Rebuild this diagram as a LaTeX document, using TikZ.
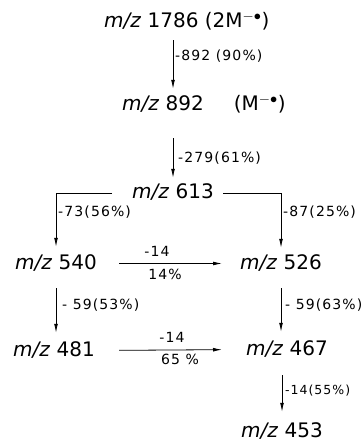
\documentclass[tikz,border=0pt]{standalone}
\usepackage{fontspec}
\setmainfont{DejaVu Sans}
\newfontfamily\lossfont[LetterSpace=8]{DejaVu Sans}
\usepackage{tikz}
\usetikzlibrary{arrows.meta}

\begin{document}
\begin{tikzpicture}[
    x=1pt, y=-1pt,
    ion/.style={
      anchor=base west, inner sep=0pt,
      text height=15pt, text depth=4pt,
      font=\fontsize{20}{24}\selectfont
    },
    loss/.style={anchor=west, inner sep=0pt, font=\lossfont\fontsize{14}{16}\selectfont},
    rate/.style={inner sep=0pt, font=\lossfont\fontsize{14}{16}\selectfont},
    arrow/.style={-{Latex[length=9pt,width=3.8pt]}, line width=0.8pt}
  ]
  \useasboundingbox (0,0) rectangle (362,443);

  % Ions
  \node[ion] (m1786) at (104,28)  {\textit{m/z} 1786 (2M$^{-\bullet}$)};
  \node[ion] (m892)  at (122,111) {\textit{m/z} 892\hspace{30pt}(M$^{-\bullet}$)};
  \node[ion] (m613)  at (132,199) {\textit{m/z} 613};
  \node[ion] (m540)  at (15,269)  {\textit{m/z} 540};
  \node[ion] (m526)  at (240,269) {\textit{m/z} 526};
  \node[ion] (m481)  at (13,356)  {\textit{m/z} 481};
  \node[ion] (m467)  at (246,355) {\textit{m/z} 467};
  \node[ion] (m453)  at (241,437) {\textit{m/z} 453};

  % Main column
  \draw[arrow, shorten <=8pt, shorten >=7pt] (m1786.south -| m613) -- (m892.north -| m613);
  \draw[arrow, shorten <=23pt, shorten >=6pt] (m892.south -| m613) -- (m613.north);
  \node[loss] (l892) at (175,56)  {-892 (90\%)};
  \node[loss] (l279) at (178,158) {-279(61\%)};

  % Branches from m/z 613
  \draw[arrow, shorten <=20pt, shorten >=7pt] (m613.west) -| (m540.north);
  \draw[arrow, shorten <=9pt, shorten >=6pt]  (m613.east) -| (m526.north);
  \node[loss] (l73) at (58,212)  {-73(56\%)};
  \node[loss] (l87) at (283,212) {-87(25\%)};

  % Loss of 14
  \draw[arrow, shorten <=22pt, shorten >=18pt] (m540.east) -- (m526.west);
  \node[rate] (r540a) at (157,251) {-14};
  \node[rate] (r540b) at (165,274) {14\%};
  \draw[arrow, shorten <=24pt, shorten >=24pt] (m481.east) -- (m467.west);
  \node[rate] (r481a) at (172,337) {-14};
  \node[rate] (r481b) at (180,359) {65 \%};

  % Loss of 59
  \draw[arrow, shorten <=15pt, shorten >=8pt] (m540.south) -- (m540.south |- m481.north);
  \draw[arrow, shorten <=15pt, shorten >=8pt] (m526.south) -- (m526.south |- m467.north);
  \node[loss] (l59a) at (62,305)  {- 59(53\%)};
  \node[loss] (l59b) at (285,305) {- 59(63\%)};

  % Last step
  \draw[arrow, shorten <=16pt, shorten >=10pt] (m467.south -| m453) -- (m453.north);
  \node[loss, font=\lossfont\fontsize{12.5}{14}\selectfont] (l14) at (285,391) {-14(55\%)};

\end{tikzpicture}
\end{document}
